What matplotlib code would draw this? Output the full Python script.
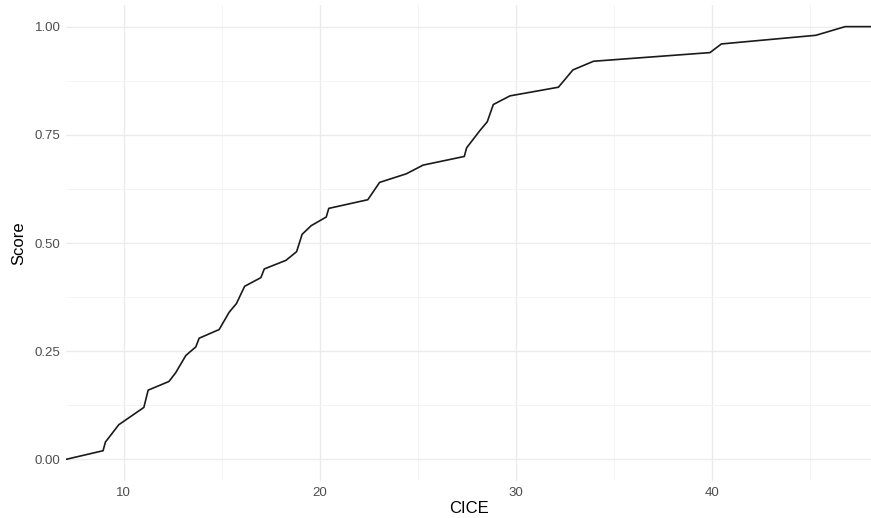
import matplotlib
matplotlib.use("Agg")
import matplotlib.pyplot as plt
from matplotlib.ticker import MultipleLocator, FixedLocator

cice = [7.05, 8.94, 9.06, 9.40, 9.74, 11.02, 11.24, 12.30, 12.64, 13.16, 13.67, 13.84,
        14.86, 15.37, 15.74, 16.16, 16.99, 17.16, 18.27, 18.81, 19.09, 19.55, 20.32,
        20.45, 22.44, 23.04, 24.41, 25.26, 27.36, 27.48, 27.82, 28.16, 28.53, 28.84,
        29.69, 32.16, 32.90, 33.95, 39.89, 40.47, 45.29, 46.78, 48.10]
score = [0.00, 0.02, 0.04, 0.06, 0.08, 0.12, 0.16, 0.18, 0.20, 0.24, 0.26, 0.28,
         0.30, 0.34, 0.36, 0.40, 0.42, 0.44, 0.46, 0.48, 0.52, 0.54, 0.56,
         0.58, 0.60, 0.64, 0.66, 0.68, 0.70, 0.72, 0.74, 0.76, 0.78, 0.82,
         0.84, 0.86, 0.90, 0.92, 0.94, 0.96, 0.98, 1.00, 1.00]

x_ticks = [10, 20, 30, 40]
y_ticks = [0.00, 0.25, 0.50, 0.75, 1.00]
y_labels = ["0.00", "0.25", "0.50", "0.75", "1.00"]

plt.rcParams['font.family'] = ['Liberation Sans', 'DejaVu Sans']

fig = plt.figure(figsize=(8.71, 5.18), dpi=100)
ax = fig.add_axes([66 / 871, 37 / 518, 805 / 871, 476 / 518])

ax.plot(cice, score, color="#1a1a1a", linewidth=1.2, solid_joinstyle="round", zorder=3)

ax.set_xlim(min(cice), max(cice))
ax.set_ylim(-0.05, 1.05)

ax.xaxis.set_major_locator(FixedLocator(x_ticks))
ax.xaxis.set_minor_locator(MultipleLocator(5))
ax.yaxis.set_major_locator(FixedLocator(y_ticks))
ax.yaxis.set_minor_locator(MultipleLocator(0.125))
ax.set_yticklabels(y_labels)

ax.grid(which="major", color="#EBEBEB", linewidth=1.0)
ax.grid(which="minor", color="#F3F3F3", linewidth=0.6)
ax.set_axisbelow(True)

for s in ax.spines.values():
    s.set_visible(False)
ax.tick_params(which="both", length=0)
ax.tick_params(axis="both", labelsize=9.5, labelcolor="#4D4D4D", pad=4)

ax.set_xlabel("CICE", fontsize=12, color="black", labelpad=2)
ax.set_ylabel("Score", fontsize=12, color="black", labelpad=6)

fig.savefig("out.png", dpi=100, facecolor="white")
